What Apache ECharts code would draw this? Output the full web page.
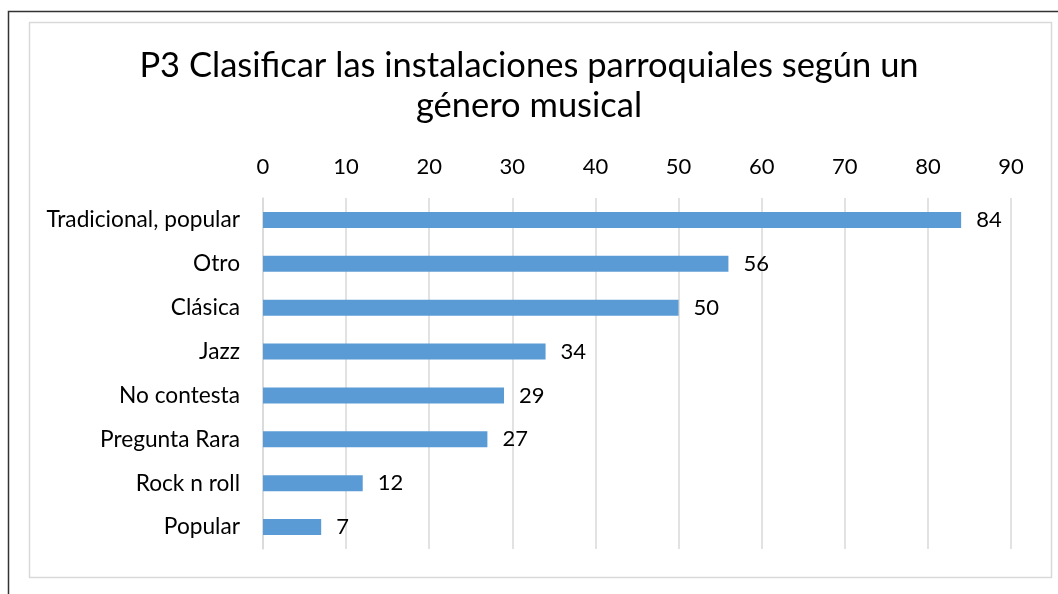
<!DOCTYPE html>
<html>
<head>
<meta charset="utf-8">
<script src="https://cdn.jsdelivr.net/npm/echarts@6/dist/echarts.min.js"></script>
<style>
html,body{margin:0;padding:0;background:#fff;}
#c{width:1058px;height:594px;}
</style>
</head>
<body>
<div id="c"></div>
<script>
const categories = ["Tradicional, popular","Otro","Clásica","Jazz","No contesta","Pregunta Rara","Rock n roll","Popular"];
const values = [84,56,50,34,29,27,12,7];
const titleText = "P3 Clasificar las instalaciones parroquiales según un\ngénero musical";

const chart = echarts.init(document.getElementById('c'));
const font = "Lato, 'Open Sans', sans-serif";
chart.setOption({
  animation:false,
  backgroundColor:'#fff',
  title:{
    text:titleText,
    left:'center',
    top:41,
    textStyle:{fontFamily:font,fontSize:34.5,fontWeight:'normal',color:'#000',lineHeight:40}
  },
  graphic:[
    {type:'rect',shape:{x:8.5,y:11.5,width:1100,height:700},style:{fill:'none',stroke:'#333',lineWidth:1.5},silent:true},
    {type:'rect',shape:{x:29.5,y:22.5,width:1022,height:555},style:{fill:'none',stroke:'#d9d9d9',lineWidth:1.5},silent:true}
  ],
  grid:{left:263,right:47,top:198,bottom:45},
  xAxis:{
    type:'value',position:'top',min:0,max:90,interval:10,
    axisLine:{show:false},axisTick:{show:false},
    splitLine:{lineStyle:{color:'#d9d9d9',width:1.5}},
    axisLabel:{fontFamily:font,fontSize:22,color:'#000',margin:20}
  },
  yAxis:{
    type:'category',inverse:true,data:categories,
    axisLine:{lineStyle:{color:'#d9d9d9',width:1.5}},axisTick:{show:false},
    axisLabel:{fontFamily:font,fontSize:22.7,color:'#000',margin:23}
  },
  series:[{
    type:'bar',data:values,barWidth:16,
    itemStyle:{color:'#5B9BD5'},
    label:{show:true,position:'right',distance:15,fontFamily:font,fontSize:22,color:'#000'}
  }]
});
</script>
</body>
</html>
